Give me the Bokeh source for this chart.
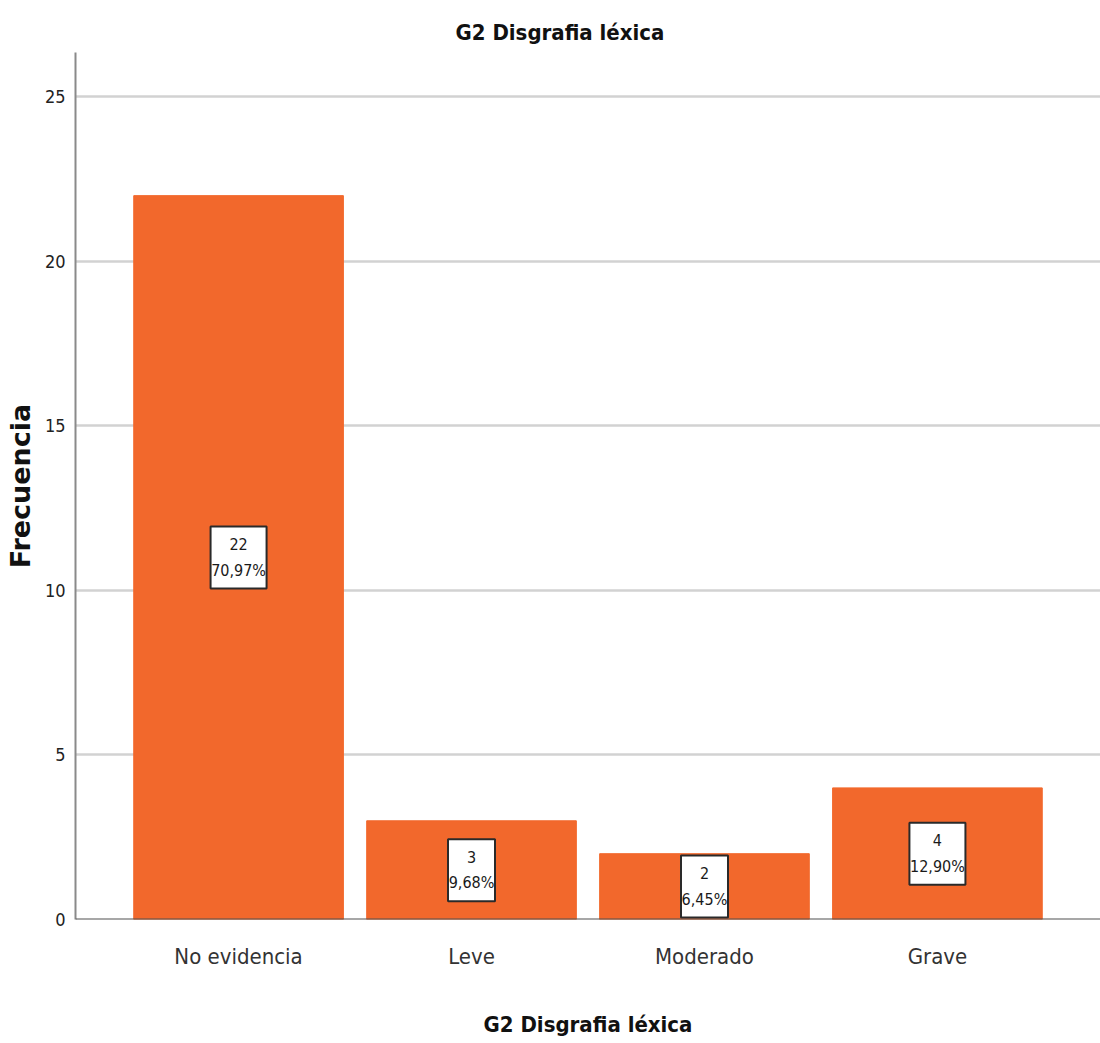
from bokeh.plotting import figure
from bokeh.models import ColumnDataSource, FactorRange, Range1d, Span, SingleIntervalTicker
from bokeh.embed import file_html
from bokeh.resources import INLINE

# Frequencies for G2 Disgrafia léxica
categories = ["No evidencia", "Leve", "Moderado", "Grave"]
counts = [22, 3, 2, 4]
percents = ["70,97%", "9,68%", "6,45%", "12,90%"]

NARROW = "'DejaVu Sans Condensed', 'Liberation Sans', sans-serif"
BAR_COLOR = "#F2682C"

labels = [f"{c}\n{p}" for c, p in zip(counts, percents)]
box_w = [9 * len(p) + 2 for p in percents]
src = ColumnDataSource(dict(
    cat=categories,
    count=counts,
    mid=[c / 2 for c in counts],
    label=labels,
    box_w=box_w,
))

p = figure(
    x_range=FactorRange(factors=categories, range_padding=0.1),
    y_range=Range1d(0, 26.35),
    width=1100, height=1043,
    output_backend="svg", toolbar_location=None,
    min_border_left=75, min_border_right=0,
    min_border_top=52, min_border_bottom=124,
)
p.outline_line_color = None
p.background_fill_color = "white"

# Title
p.title.text = "G2 Disgrafia léxica"
p.title.text_font = NARROW
p.title.text_font_size = "22px"
p.title.text_font_style = "bold"
p.title.text_color = "#111111"
p.title.align = "left"
p.title.offset = 380
p.title.standoff = 16

# Bars
p.vbar(x="cat", top="count", width=0.9, source=src,
       fill_color=BAR_COLOR, line_color=BAR_COLOR, line_width=1)

# Value boxes inside bars
p.rect(x="cat", y="mid", width="box_w", height=62, width_units="screen",
       height_units="screen", source=src, fill_color="white",
       line_color="#2a2a2a", line_width=2)
p.text(x="cat", y="mid", text="label", source=src, text_align="center",
       text_baseline="middle", text_font_size="16px", text_color="#1a1a1a",
       text_line_height=1.35, text_font={"value": NARROW})

# Baseline at zero
p.add_layout(Span(location=0, dimension="width", line_color="#505050", line_width=2))

# Y axis
p.yaxis.ticker = SingleIntervalTicker(interval=5)
p.yaxis.axis_label = "Frecuencia"
p.yaxis.axis_label_text_font = "DejaVu Sans"
p.yaxis.axis_label_text_font_style = "bold"
p.yaxis.axis_label_text_font_size = "27px"
p.yaxis.axis_label_text_color = "#111111"
p.yaxis.axis_label_standoff = 6
p.yaxis.major_label_text_font = NARROW
p.yaxis.major_label_text_font_size = "18px"
p.yaxis.major_label_text_color = "#222222"
p.yaxis.major_label_standoff = 6
p.yaxis.major_tick_line_color = None
p.yaxis.minor_tick_line_color = None
p.yaxis.major_tick_out = 0
p.yaxis.major_tick_in = 0
p.yaxis.axis_line_color = "#8a8a8a"
p.yaxis.axis_line_width = 2

# X axis
p.xaxis.axis_label = "G2 Disgrafia léxica"
p.xaxis.axis_label_text_font = NARROW
p.xaxis.axis_label_text_font_style = "bold"
p.xaxis.axis_label_text_font_size = "22px"
p.xaxis.axis_label_text_color = "#111111"
p.xaxis.axis_label_standoff = 40
p.xaxis.major_label_text_font = NARROW
p.xaxis.major_label_text_font_size = "22px"
p.xaxis.major_label_text_color = "#333333"
p.xaxis.major_label_standoff = 24
p.xaxis.major_tick_line_color = None
p.xaxis.minor_tick_line_color = None
p.xaxis.major_tick_out = 0
p.xaxis.major_tick_in = 0
p.xaxis.axis_line_color = None

# Grid
p.xgrid.grid_line_color = None
p.ygrid.grid_line_color = "#d2d2d2"
p.ygrid.grid_line_width = 2.5

open("out.html", "w").write(file_html(p, INLINE))
